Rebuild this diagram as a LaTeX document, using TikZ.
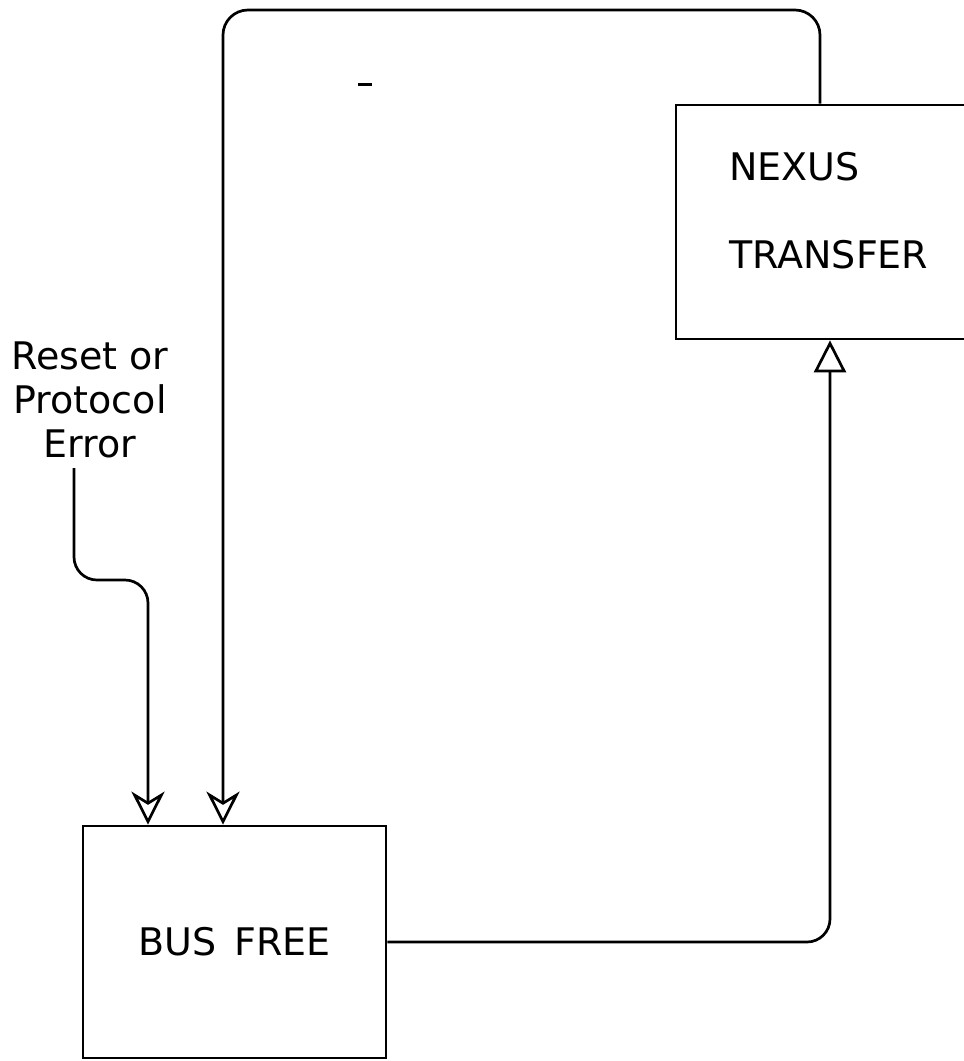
\documentclass[tikz,border=0pt]{standalone}
\usepackage{fontspec}
\setmainfont{DejaVu Sans}
\usetikzlibrary{arrows.meta}
\begin{document}
\begin{tikzpicture}[x=1pt,y=-1pt,
  line width=2.7pt,
  box/.style={draw, line width=2.7pt, inner sep=0pt},
  lbl/.style={font=\fontsize{38}{44}\selectfont, inner sep=0pt},
  notch/.style={-{Stealth[open,length=33pt,width=33pt,inset=10pt]}},
  tri/.style={-{Triangle[open,length=32pt,width=32pt]}},
  wire/.style={rounded corners=23pt}]
\useasboundingbox (0,0) rectangle (964,1061);
% boxes
\node[box, minimum width=303pt, minimum height=232pt, lbl] (busfree) at (234.5,942) {BUS\hspace{0.15em} FREE};
\node[box, minimum width=320pt, minimum height=234pt] (nexus) at (836,222) {};
\node[lbl, anchor=west] (nexus1) at (728,167) {NEXUS};
\node[lbl, anchor=west] (nexus2) at (728,255) {TRANSFER};
% input label
\node[lbl, align=center] (reset) at (90,400) {Reset or\\Protocol\\Error};
\coordinate (resetend) at (74,468);
\coordinate (xin) at (148,0);
\coordinate (xloop) at (223,0);
\coordinate (xtop) at (820,0);
\coordinate (xout) at (830,0);
% connectors
\draw[notch, wire] (resetend) -- (74,580) -- (148,580) -- (xin |- busfree.north);
\draw[notch, rounded corners=25pt] (xtop |- nexus.north) -- (820,10) -- (223,10) -- (xloop |- busfree.north);
\draw[tri, rounded corners=23pt] (busfree.east) -- (830,942) -- (xout |- nexus.south);
% stray mark
\draw[line width=3pt] (358,84) -- (372,84);
\end{tikzpicture}
\end{document}
